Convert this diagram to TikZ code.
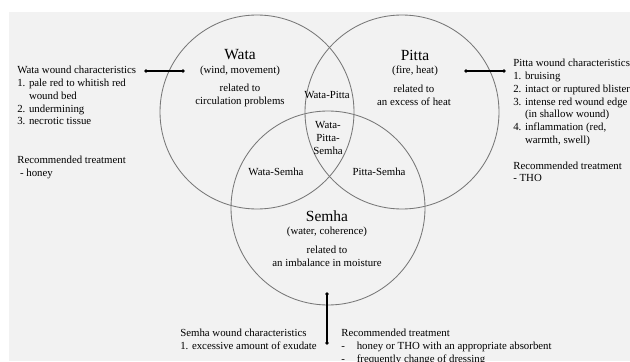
\documentclass[tikz,border=0pt]{standalone}
\usepackage{fontspec}
\setmainfont{Liberation Serif}
\usetikzlibrary{calc}
\definecolor{figBg}{RGB}{242,242,242}
\definecolor{figC}{RGB}{120,120,120}
\newcommand{\bodyfont}{\fontsize{7.7}{9.1}\selectfont}
\newcommand{\titlefont}{\fontsize{11}{13}\selectfont}

\begin{document}
\begin{tikzpicture}[x=0.025cm,y=-0.025cm,
  ring/.style={figC,line width=0.6pt},
  txt/.style={font=\bodyfont,inner sep=0pt,align=left},
  ctxt/.style={font=\bodyfont,inner sep=0pt,align=center},
  ttl/.style={font=\titlefont,inner sep=0pt},
  link/.style={black,line width=0.9pt},
  dot/.style={fill=black}]
\useasboundingbox (0,0) rectangle (630,361);
\fill[figBg] (9,12) rectangle (630,361);
% ---------- circles ----------
\coordinate (wata) at (257,112);
\coordinate (pitta) at (402,112);
\coordinate (semha) at (328,208);
\draw[ring] (wata) circle [radius=97];
\draw[ring] (pitta) circle [radius=97];
\draw[ring] (semha) circle [radius=97];
% ---------- inside ----------
\node[ttl] (wataT) at (240,55) {Wata};
\node[ctxt] (wataS) at (240,71) {(wind, movement)};
\node[ctxt] (wataR) at (240,95) {related to\\circulation problems};
\node[ttl] (pittaT) at (415,55) {Pitta};
\node[ctxt] (pittaS) at (415,71) {(fire, heat)};
\node[ctxt] (pittaR) at (414,95) {related to\\an excess of heat};
\node[ttl] (semhaT) at (327,216) {Semha};
\node[ctxt] (semhaS) at (327,232) {(water, coherence)};
\node[ctxt] (semhaR) at (327,256) {related to\\an imbalance in moisture};
\node[ctxt] (wp) at (327,95) {Wata-Pitta};
\node[ctxt] (wps) at (328,138) {Wata-\\Pitta-\\Semha};
\node[ctxt] (ws) at (276,172) {Wata-Semha};
\node[ctxt] (ps) at (379,172) {Pitta-Semha};
% ---------- notes ----------
\node[txt,anchor=north west] (wataN) at (17,66) {Wata wound characteristics\\
1. pale red to whitish red\\
\phantom{1. }wound bed\\
2. undermining\\
3. necrotic tissue\\[2\baselineskip]
Recommended treatment\\
\hspace*{2pt}- honey};
\node[txt,anchor=north west] (pittaN) at (513,59) {Pitta wound characteristics\\
1. bruising\\
2. intact or ruptured blister\\
3. intense red wound edge\\
\phantom{3. }(in shallow wound)\\
4. inflammation (red,\\
\phantom{4. }warmth, swell)\\[\baselineskip]
Recommended treatment\\
- THO};
\node[txt,anchor=north west] (semhaN) at (180,329) {Semha wound characteristics\\
1. excessive amount of exudate};
\node[txt,anchor=north west] (semhaM) at (341,329) {Recommended treatment\\
-\hspace{1.1em}honey or THO with an appropriate absorbent\\
-\hspace{1.1em}frequently change of dressing};
% ---------- connectors ----------
\coordinate (wa) at (146,71); \coordinate (wb) at (183,71);
\coordinate (pa) at (466,71); \coordinate (pb) at (504,71);
\coordinate (sa) at (327,294); \coordinate (sb) at (327,343);
\draw[link] (wa)--(wb);
\draw[link] (pa)--(pb);
\draw[link] (sa)--(sb);
\foreach \d in {wa,wb,pa,pb,sa,sb} \fill[dot] (\d) circle [radius=1.8];
\end{tikzpicture}
\end{document}
